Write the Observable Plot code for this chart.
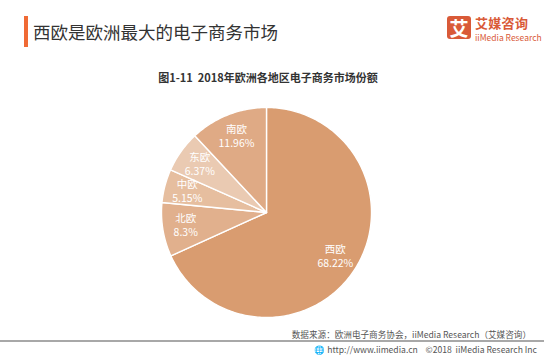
<!DOCTYPE html>
<html><head><meta charset="utf-8">
<script src="https://cdn.jsdelivr.net/npm/d3@7"></script>
<script src="https://cdn.jsdelivr.net/npm/@observablehq/plot@0.6"></script>
<style>
body{margin:0;background:#fff;font-family:"Noto Sans CJK SC","Noto Sans",sans-serif;}
#wrap{position:relative;width:544px;height:355px;overflow:hidden;background:#fff}
#chart{position:absolute;left:0;top:0}
#bar{position:absolute;left:24px;top:16px;width:4px;height:31px;background:#F06A35}
#title{position:absolute;left:33px;top:20px;font-size:17.5px;line-height:24px;color:#333;white-space:nowrap}
#icon{position:absolute;left:447px;top:16px;width:24px;height:23px;background:#D95A38;border-radius:3px;color:#fff;font-size:19px;font-weight:bold;line-height:23px;text-align:center}
#brand{position:absolute;left:475px;top:15px;font-size:13px;line-height:16px;color:#D95A38;font-weight:bold;white-space:nowrap;letter-spacing:0.3px}
#brand2{position:absolute;left:475px;top:32px;font-size:8.5px;line-height:10px;color:#D95A38;white-space:nowrap}
#sub{position:absolute;left:0;width:536px;top:70px;text-align:center;font-size:11px;line-height:15px;color:#333;font-weight:bold;white-space:nowrap}
#src{position:absolute;right:13px;top:328px;font-size:8.6px;line-height:12px;color:#555;white-space:nowrap}
#rule{position:absolute;left:0;width:544px;top:340px;height:2px;background:#A8A8A8}
#foot{position:absolute;right:7px;top:343px;font-size:8.6px;line-height:12px;color:#555;white-space:nowrap}
</style></head><body>
<div id="wrap">
  <div id="chart"></div>
  <div id="bar"></div>
  <div id="title">西欧是欧洲最大的电子商务市场</div>
  <div id="icon">艾</div>
  <div id="brand">艾媒咨询</div>
  <div id="brand2">iiMedia Research</div>
  <div id="sub">图1-11&nbsp;&nbsp;2018年欧洲各地区电子商务市场份额</div>
  <div id="src">数据来源：欧洲电子商务协会，iiMedia Research（艾媒咨询）</div>
  <div id="rule"></div>
  <div id="foot">&#x1F310; http://www.iimedia.cn&nbsp;&nbsp;&nbsp;&nbsp;©2018&nbsp;&nbsp;iiMedia Research Inc</div>
</div>
<script>
const regions = ["西欧", "北欧", "中欧", "东欧", "南欧"];
const shares = [68.22, 8.3, 5.15, 6.37, 11.96];
const colors = ["#D99C70", "#E1B08D", "#E6BE9F", "#EACAB2", "#DFAA85"];

const pie = d3.pie().sort(null).value((d, i) => shares[i])(regions);

// polygon outline of each slice (unit circle, angle clockwise from top)
const pts = [];
pie.forEach((p, i) => {
  const a0 = p.startAngle, a1 = p.endAngle;
  pts.push({region: regions[i], x: 0, y: 0});
  const n = Math.max(2, Math.ceil((a1 - a0) / (Math.PI / 180)));
  for (let k = 0; k <= n; k++) {
    const a = a0 + (a1 - a0) * k / n;
    pts.push({region: regions[i], x: Math.sin(a), y: Math.cos(a)});
  }
});

const labelR = 0.78;
const labels = pie.map((p, i) => {
  const m = (p.startAngle + p.endAngle) / 2;
  return {region: regions[i], share: shares[i], x: labelR * Math.sin(m), y: labelR * Math.cos(m)};
});

const cx = 266, cy = 212, R = 105, W = 544, H = 355;
const chart = Plot.plot({
  width: W, height: H,
  marginLeft: cx - R, marginRight: W - (cx + R),
  marginTop: cy - R, marginBottom: H - (cy + R),
  x: {domain: [-1, 1], axis: null},
  y: {domain: [-1, 1], axis: null},
  color: {domain: regions, range: colors},
  style: {fontFamily: "'Noto Sans CJK SC', sans-serif", background: "transparent"},
  marks: [
    Plot.line(pts, {x: "x", y: "y", z: "region", fill: "region", stroke: "#fff", strokeWidth: 1.4, curve: "linear-closed"}),
    Plot.text(labels, {x: "x", y: "y", text: "region", dy: -7, fill: "#fff", fontSize: 10.5}),
    Plot.text(labels, {x: "x", y: "y", text: d => `${d.share}%`, dy: 7, fill: "#fff", fontSize: 10.5})
  ]
});
document.getElementById("chart").appendChild(chart);
</script>
</body></html>
